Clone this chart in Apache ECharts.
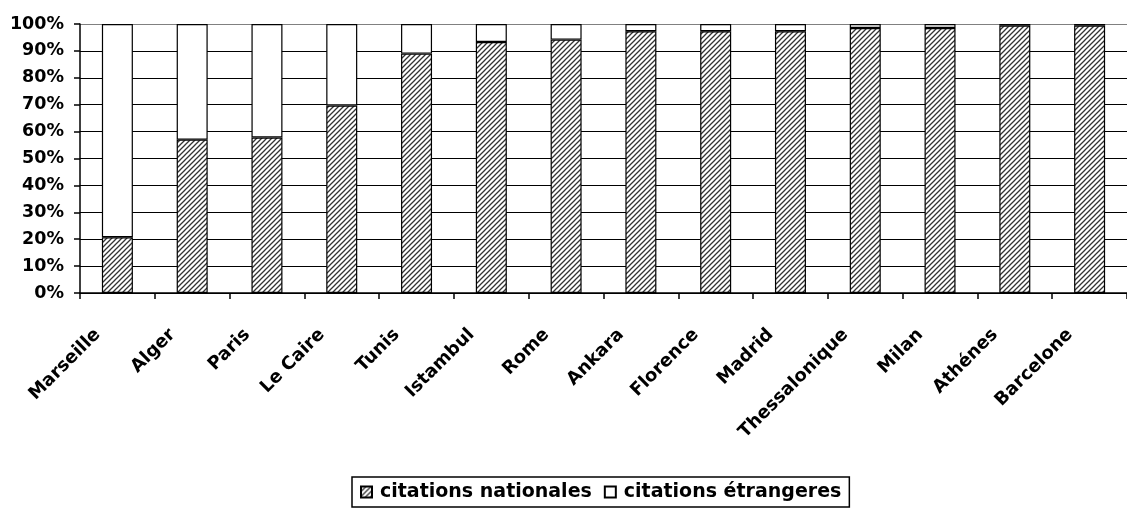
<!DOCTYPE html>
<html>
<head>
<meta charset="utf-8">
<script src="https://cdn.jsdelivr.net/npm/echarts@6/dist/echarts.min.js"></script>
<style>
html,body{margin:0;padding:0;background:#fff;}
#chart{width:1127px;height:512px;}
</style>
</head>
<body>
<div id="chart"></div>
<script>
// Data
const categories = ['Marseille','Alger','Paris','Le Caire','Tunis','Istambul','Rome','Ankara','Florence','Madrid','Thessalonique','Milan','Athénes','Barcelone'];
const citationsNationales = [20.7, 57.0, 57.8, 69.7, 89.0, 93.3, 94.2, 97.3, 97.3, 97.3, 98.5, 98.5, 99.4, 99.4];
const citationsEtrangeres = [79.3, 43.0, 42.2, 30.3, 11.0, 6.7, 5.8, 2.7, 2.7, 2.7, 1.5, 1.5, 0.6, 0.6];
const seriesNames = ['citations nationales', 'citations étrangeres'];
const yTicks = { min: 0, max: 100, interval: 10 };

// Hatch pattern
function makeHatch() {
  const s = 5;
  const c = document.createElement('canvas');
  c.width = s; c.height = s;
  const ctx = c.getContext('2d');
  ctx.fillStyle = '#ffffff';
  ctx.fillRect(0, 0, s, s);
  ctx.strokeStyle = '#333333';
  ctx.lineWidth = 1.3;
  ctx.beginPath();
  ctx.moveTo(-1, s + 1); ctx.lineTo(s + 1, -1);
  ctx.moveTo(-1, 1); ctx.lineTo(1, -1);
  ctx.moveTo(s - 1, s + 1); ctx.lineTo(s + 1, s - 1);
  ctx.stroke();
  return c;
}
const hatch = makeHatch();

const FONT = '"DejaVu Sans", sans-serif';
const chart = echarts.init(document.getElementById('chart'), null, { renderer: 'canvas' });
const gridColors = [];
for (let i = 0; i < 10; i++) gridColors.push('#000000');
gridColors.push('#808080');

chart.setOption({
  animation: false,
  backgroundColor: '#ffffff',
  grid: { left: 80, top: 24, right: -7, bottom: 219, containLabel: false },
  legend: {
    data: seriesNames,
    left: 352,
    top: 477,
    orient: 'horizontal',
    itemWidth: 11,
    itemHeight: 11,
    itemGap: 12,
    padding: [4, 8, 4, 8],
    borderColor: '#000',
    borderWidth: 1.5,
    borderRadius: 0,
    icon: 'rect',
    textStyle: { fontFamily: FONT, fontWeight: 'bold', fontSize: 19, color: '#000', padding: [0, 0, 0, 3], lineHeight: 22 }
  },
  xAxis: {
    type: 'category',
    data: categories,
    boundaryGap: true,
    axisLine: { show: true, lineStyle: { color: '#000', width: 1.5 } },
    axisTick: { show: true, length: 6, inside: false, lineStyle: { color: '#000', width: 1.5 } },
    axisLabel: {
      interval: 0,
      rotate: 45,
      margin: 19,
      fontFamily: FONT,
      fontWeight: 'bold',
      fontSize: 18,
      color: '#000',
      padding: [0, 28, 0, 0]
    },
    splitLine: { show: false }
  },
  yAxis: {
    type: 'value',
    min: yTicks.min,
    max: yTicks.max,
    interval: yTicks.interval,
    axisLine: { show: true, lineStyle: { color: '#000', width: 1.5 } },
    axisTick: { show: true, length: 6, lineStyle: { color: '#000', width: 1.5 } },
    axisLabel: {
      formatter: '{value}%',
      margin: 16,
      fontFamily: FONT,
      fontWeight: 'bold',
      fontSize: 17.5,
      color: '#000'
    },
    splitLine: { show: true, lineStyle: { color: gridColors, width: 1.2 } }
  },
  series: [
    {
      name: seriesNames[0],
      type: 'bar',
      stack: 'total',
      data: citationsNationales,
      barWidth: 31,
      itemStyle: { color: { image: hatch, repeat: 'repeat' }, borderColor: '#000', borderWidth: 1.2 }
    },
    {
      name: seriesNames[1],
      type: 'bar',
      stack: 'total',
      data: citationsEtrangeres,
      barWidth: 31,
      itemStyle: { color: '#ffffff', borderColor: '#000', borderWidth: 1.2 }
    }
  ]
});
</script>
</body>
</html>
